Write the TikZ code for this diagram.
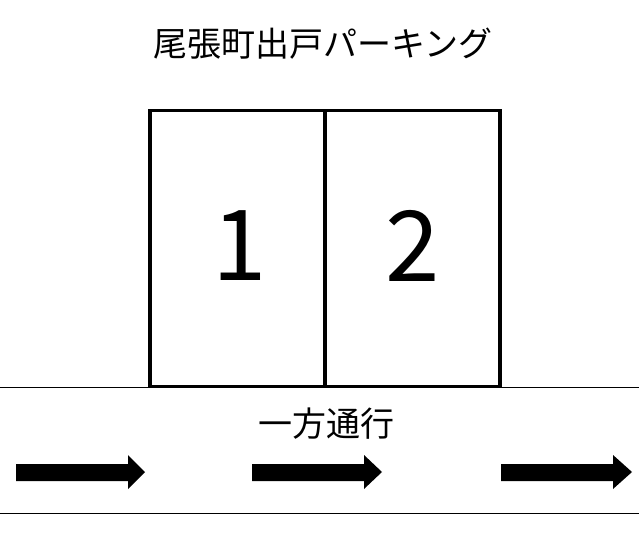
\documentclass[tikz,border=0pt]{standalone}
\usepackage{fontspec}
\setmainfont{Noto Sans CJK JP}
\newfontfamily\jpfont{Noto Sans CJK JP}
\begin{document}
\begin{tikzpicture}[x=1pt,y=-1pt,
  stall/.style={draw=black,line width=3.2pt,minimum width=175pt,minimum height=276pt,inner sep=0pt},
  digit/.style={inner sep=0pt,font=\jpfont\fontsize{98}{98}\selectfont},
  road/.style={draw=black,line width=1pt},
  flow/.style={fill=black},
  label/.style={inner sep=0pt,font=\jpfont\fontsize{34}{34}\selectfont}]
\useasboundingbox (0,0) rectangle (639,540);
\fill[white] (0,0) rectangle (639,540);
\node[label] (title) at (323,44) {尾張町出戸パーキング};
\coordinate (rl) at (0,387);
\coordinate (rr) at (639,387);
\coordinate (bl) at (0,513);
\coordinate (br) at (639,513);
\draw[road] (rl) -- (rr);
\draw[road] (bl) -- (br);
\node[stall] (s1) at (237.5,248.5) {};
\node[stall] (s2) at (412.5,248.5) {};
\node[digit] (n1) at (240,246) {1};
\node[digit] (n2) at (413,246) {2};
\node[label] (dir) at (326,424) {一方通行};
\fill[flow] (16,464) -- (128,464) -- (128,455) -- (145,472) -- (128,489) -- (128,481) -- (16,481) -- cycle;
\fill[flow] (252,464) -- (364,464) -- (364,455) -- (382,472) -- (364,489) -- (364,481) -- (252,481) -- cycle;
\fill[flow] (501,464) -- (613,464) -- (613,455) -- (632,472) -- (613,489) -- (613,481) -- (501,481) -- cycle;
\end{tikzpicture}
\end{document}
